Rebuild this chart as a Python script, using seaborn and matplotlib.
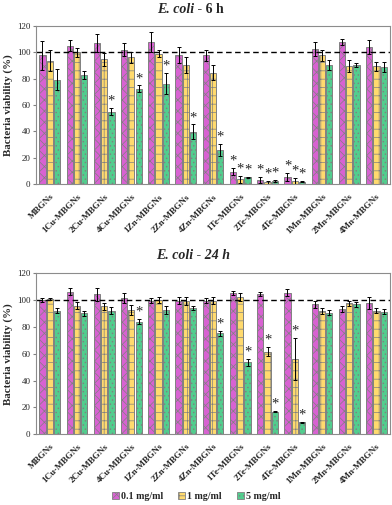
import numpy as np
import pandas as pd
import matplotlib
matplotlib.use("Agg")
import matplotlib.pyplot as plt
import seaborn as sns
from matplotlib.patches import Patch
from matplotlib.container import BarContainer

# samples on the x axis
samples = ["MBGNs", "1Cu-MBGNs", "2Cu-MBGNs", "4Cu-MBGNs", "1Zn-MBGNs", "2Zn-MBGNs",
           "4Zn-MBGNs", "1Te-MBGNs", "2Te-MBGNs", "4Te-MBGNs", "1Mn-MBGNs",
           "2Mn-MBGNs", "4Mn-MBGNs"]
doses = ["0.1 mg/ml", "1 mg/ml", "5 mg/ml"]

# E. coli - 6 h, viability (%) and error
h6_low = [97.7, 105.0, 106.8, 101.8, 107.8, 97.7, 97.7, 9.6, 3.3, 5.8, 102.3, 107.8, 104.0]
h6_mid = [93.7, 100.0, 94.5, 96.0, 99.0, 90.2, 84.6, 3.8, 1.5, 2.8, 97.7, 89.4, 89.4]
h6_high = [79.3, 83.0, 55.0, 72.3, 76.3, 39.8, 25.9, 5.3, 2.6, 2.0, 90.2, 90.2, 88.9]
h6_low_err = [11.0, 4.0, 7.0, 5.0, 7.5, 6.0, 4.0, 2.5, 2.5, 3.0, 5.5, 2.5, 5.5]
h6_mid_err = [8.0, 3.5, 5.0, 4.0, 2.5, 6.0, 5.5, 2.7, 1.0, 2.2, 4.0, 4.5, 3.3]
h6_high_err = [8.0, 3.0, 2.5, 2.5, 8.0, 5.5, 4.5, 0.5, 1.0, 0.5, 4.0, 1.5, 3.8]

# E. coli - 24 h
h24_low = [100.1, 106.3, 104.3, 101.4, 99.6, 99.6, 99.6, 105.6, 104.3, 105.6, 96.9, 93.4, 98.1]
h24_mid = [100.6, 95.7, 95.2, 92.7, 100.1, 99.6, 99.6, 102.1, 61.6, 56.1, 91.9, 97.6, 92.2]
h24_high = [92.2, 90.2, 92.2, 84.0, 92.7, 93.9, 75.3, 53.7, 16.9, 8.9, 90.7, 96.9, 91.4]
h24_low_err = [1.8, 2.5, 5.0, 3.7, 1.8, 2.5, 2.0, 1.5, 1.5, 2.5, 2.7, 2.5, 4.5]
h24_mid_err = [0.8, 2.5, 2.5, 3.7, 2.0, 3.0, 2.5, 3.0, 3.2, 15.5, 2.0, 1.8, 2.2]
h24_high_err = [1.8, 2.0, 2.3, 1.7, 3.0, 1.3, 2.0, 2.5, 0.3, 0.3, 2.0, 2.0, 2.0]

# significance stars: (sample index, dose index)
h6_stars = [(2, 2), (3, 2), (4, 2), (5, 2), (6, 2), (7, 0), (7, 1), (7, 2),
            (8, 0), (8, 1), (8, 2), (9, 0), (9, 1), (9, 2)]
h24_stars = [(3, 2), (6, 2), (7, 2), (8, 1), (8, 2), (9, 1), (9, 2)]

face_colors = ["#D862D2", "#FFDA6E", "#52CD8E"]
hatch_colors = ["#9A2E94", "#FFF4D2", "#E8FFF2"]
hatches = ["xxx", "++", "...."]

sns.set_style("white")
plt.rcParams["font.family"] = ["Liberation Serif", "DejaVu Serif"]
plt.rcParams["hatch.linewidth"] = 0.5


def make_frame(low, mid, high):
    return pd.DataFrame({
        "sample": samples * 3,
        "dose": [doses[0]] * 13 + [doses[1]] * 13 + [doses[2]] * 13,
        "value": low + mid + high,
    })


def draw_panel(ax, low, mid, high, errs, stars):
    df = make_frame(low, mid, high)
    sns.barplot(data=df, x="sample", y="value", hue="dose", order=samples,
                hue_order=doses, palette=face_colors, saturation=1,
                errorbar=None, width=0.8, gap=0.14, edgecolor="#808080",
                linewidth=0.7, legend=False, ax=ax)
    vals = [low, mid, high]
    bars = [c for c in ax.containers if isinstance(c, BarContainer)]
    for k, cont in enumerate(bars):
        xs = []
        for p in cont.patches:
            p.set_hatch(hatches[k])
            if hasattr(p, "set_hatchcolor"):
                p.set_hatchcolor(hatch_colors[k])
            xs.append(p.get_x() + p.get_width() / 2)
        ax.errorbar(xs, vals[k], yerr=errs[k], fmt="none", ecolor="black",
                    elinewidth=0.7, capsize=1.6, capthick=0.7)
        for (i, j) in stars:
            if j == k:
                ax.text(xs[i], vals[k][i] + errs[k][i] + 0.3, "*",
                        ha="center", va="bottom", fontsize=10.5)
    ax.axhline(100, color="black", ls=(0, (4, 2.5)), lw=1.0)
    ax.set_ylim(0, 120)
    ax.set_xlim(-0.5, len(samples) - 0.5)
    ax.set_yticks(range(0, 121, 20))
    ax.set_xlabel("")
    ax.set_ylabel("Bacteria viability (%)", fontsize=7.8, fontweight="bold",
                  labelpad=3)
    ax.tick_params(axis="y", labelsize=6.5, length=2, color="#808080", pad=2,
                   left=True)
    ax.tick_params(axis="x", length=0, pad=6)
    ax.set_xticks(range(len(samples)))
    ax.set_xticklabels(samples, rotation=45, ha="right", rotation_mode="anchor",
                       fontsize=6.6, fontweight="bold")
    for s in ax.spines.values():
        s.set_color("#8C8C8C")
        s.set_linewidth(0.8)


fig = plt.figure(figsize=(3.92, 5.05), dpi=100)
ax1 = fig.add_axes([0.092, 0.635, 0.903, 0.314])
ax2 = fig.add_axes([0.092, 0.140, 0.903, 0.319])

draw_panel(ax1, h6_low, h6_mid, h6_high,
           [h6_low_err, h6_mid_err, h6_high_err], h6_stars)
draw_panel(ax2, h24_low, h24_mid, h24_high,
           [h24_low_err, h24_mid_err, h24_high_err], h24_stars)

# titles
t1 = fig.text(0.40, 0.982, "E. coli", fontsize=10, fontweight="bold",
              fontstyle="italic", ha="left", va="center")
fig.canvas.draw()
bb = t1.get_window_extent()
fig.text(bb.x1 / fig.bbox.width, 0.982, " - 6 h", fontsize=10,
         fontweight="bold", ha="left", va="center")
fig.text(0.492, 0.494, "E. coli - 24 h", fontsize=10, fontweight="bold",
         fontstyle="italic", ha="center", va="center")

handles = [Patch(facecolor=face_colors[k], edgecolor="#808080", lw=0.6,
                 hatch=hatches[k]) for k in range(3)]
fig.legend(handles, doses, loc="center", bbox_to_anchor=(0.5, 0.017), ncol=3,
           frameon=False, prop={"size": 7.2, "weight": "bold"},
           handlelength=0.7, handleheight=0.7, handletextpad=0.2,
           columnspacing=1.5)

fig.savefig("out.png", dpi=100)
